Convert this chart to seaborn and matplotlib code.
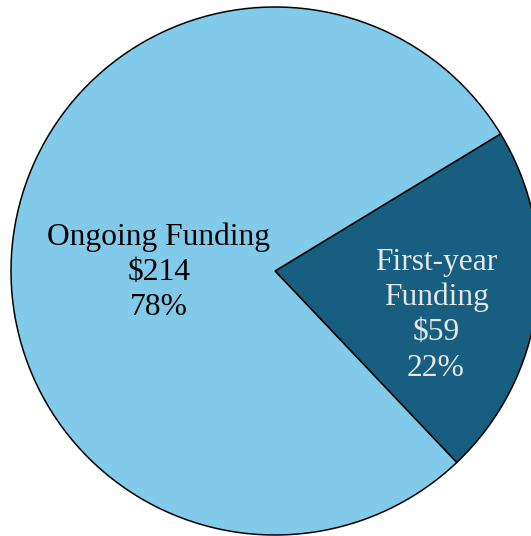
import matplotlib
matplotlib.use("Agg")
import matplotlib.pyplot as plt
import seaborn as sns

# funding split (in $)
categories = ["First-year\nFunding", "Ongoing Funding"]
amounts = [59, 214]
colors = ["#175E80", "#82CAEA"]
text_colors = ["#E8E8E8", "black"]

sns.set_theme(style="white")
plt.rcParams["font.family"] = ["Liberation Serif", "DejaVu Serif"]

fig = plt.figure(figsize=(5.31, 5.36), dpi=100)
ax = fig.add_axes([0, 0, 1, 1])

# first-year wedge starts below the right side and runs counter-clockwise
wedges, _ = ax.pie(amounts,
                   colors=colors,
                   startangle=-46.5,
                   counterclock=True,
                   radius=1,
                   wedgeprops={"edgecolor": "black", "linewidth": 1.1})

total = sum(amounts)
# label spots for each wedge (data coords)
label_pos = [(0.61, -0.167), (-0.44, -0.004)]
for name, amt, tc, (x, y) in zip(categories, amounts, text_colors, label_pos):
    pct = round(100 * amt / total)
    ax.text(x, y, f"{name}\n${amt}\n{pct}%", ha="center", va="center",
            fontsize=22.7, color=tc, linespacing=1.28)

# place the circle like the original (slightly clipped on the right)
ax.set_xlim(-275 / 264, (531 - 275) / 264)
ax.set_ylim(-(536 - 271) / 264, 271 / 264)
ax.set_aspect("auto")
ax.axis("off")

plt.savefig("out.png", dpi=100)
